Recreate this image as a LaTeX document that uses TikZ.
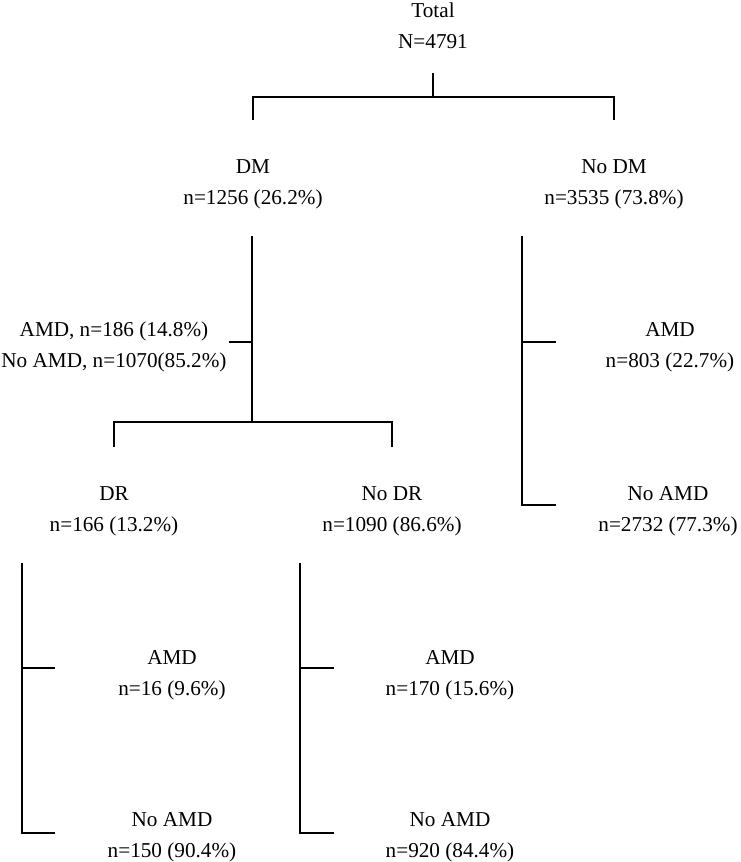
\documentclass[tikz,border=0pt]{standalone}
\usepackage{fontspec}
\setmainfont{Liberation Serif}
\begin{document}
\begin{tikzpicture}[x=1pt,y=-1pt,
  lbl/.style={align=center, inner sep=0pt, font=\fontsize{21.2}{31}\selectfont},
  br/.style={line width=2.4pt, line join=miter}]
\useasboundingbox (0,0) rectangle (741,862);
% labels
\node[lbl] (total) at (433,27) {\strut Total\\\strut N=4791};
\node[lbl] (dm) at (253,183) {\strut DM\\\strut n=1256 (26.2\%)};
\node[lbl] (nodm) at (614,183) {\strut No DM\\\strut n=3535 (73.8\%)};
\node[lbl] (dmamd) at (114,346) {\strut AMD, n=186 (14.8\%)\\\strut No AMD, n=1070(85.2\%)};
\node[lbl] (nodmamd) at (670,346) {\strut AMD\\\strut n=803 (22.7\%)};
\node[lbl] (nodmnoamd) at (668,509.5) {\strut No AMD\\\strut n=2732 (77.3\%)};
\node[lbl] (dr) at (114,509.5) {\strut DR\\\strut n=166 (13.2\%)};
\node[lbl] (nodr) at (392,509.5) {\strut No DR\\\strut n=1090 (86.6\%)};
\node[lbl] (dramd) at (172,674) {\strut AMD\\\strut n=16 (9.6\%)};
\node[lbl] (drnoamd) at (172,836) {\strut No AMD\\\strut n=150 (90.4\%)};
\node[lbl] (nodramd) at (450,674) {\strut AMD\\\strut n=170 (15.6\%)};
\node[lbl] (nodrnoamd) at (450,836) {\strut No AMD\\\strut n=920 (84.4\%)};
% connector points
\coordinate (t0) at (433,73);
\coordinate (t1) at (433,97);
\coordinate (tl) at (253,97);
\coordinate (tr) at (614,97);
\coordinate (tlb) at (253,120);
\coordinate (trb) at (614,120);
\coordinate (d0) at (252,236);
\coordinate (d1) at (252,422);
\coordinate (dt) at (252,342);
\coordinate (dtl) at (229,342);
\coordinate (bl) at (114,422);
\coordinate (br) at (392,422);
\coordinate (blb) at (114,447);
\coordinate (brb) at (392,447);
\coordinate (n0) at (522,236);
\coordinate (n1) at (522,505);
\coordinate (nt) at (522,342);
\coordinate (ntr) at (556,342);
\coordinate (n1r) at (556,505);
\coordinate (r0) at (22,563);
\coordinate (r1) at (22,833);
\coordinate (rt) at (22,668);
\coordinate (rtr) at (55,668);
\coordinate (r1r) at (55,833);
\coordinate (s0) at (300,563);
\coordinate (s1) at (300,833);
\coordinate (st) at (300,668);
\coordinate (str) at (334,668);
\coordinate (s1r) at (334,833);
% connectors
\draw[br] (t0) -- (t1);
\draw[br] (tlb) -- (tl) -- (tr) -- (trb);
\draw[br] (d0) -- (d1);
\draw[br] (dtl) -- (dt);
\draw[br] (blb) -- (bl) -- (br) -- (brb);
\draw[br] (n0) -- (n1) -- (n1r);
\draw[br] (nt) -- (ntr);
\draw[br] (r0) -- (r1) -- (r1r);
\draw[br] (rt) -- (rtr);
\draw[br] (s0) -- (s1) -- (s1r);
\draw[br] (st) -- (str);
\end{tikzpicture}
\end{document}
